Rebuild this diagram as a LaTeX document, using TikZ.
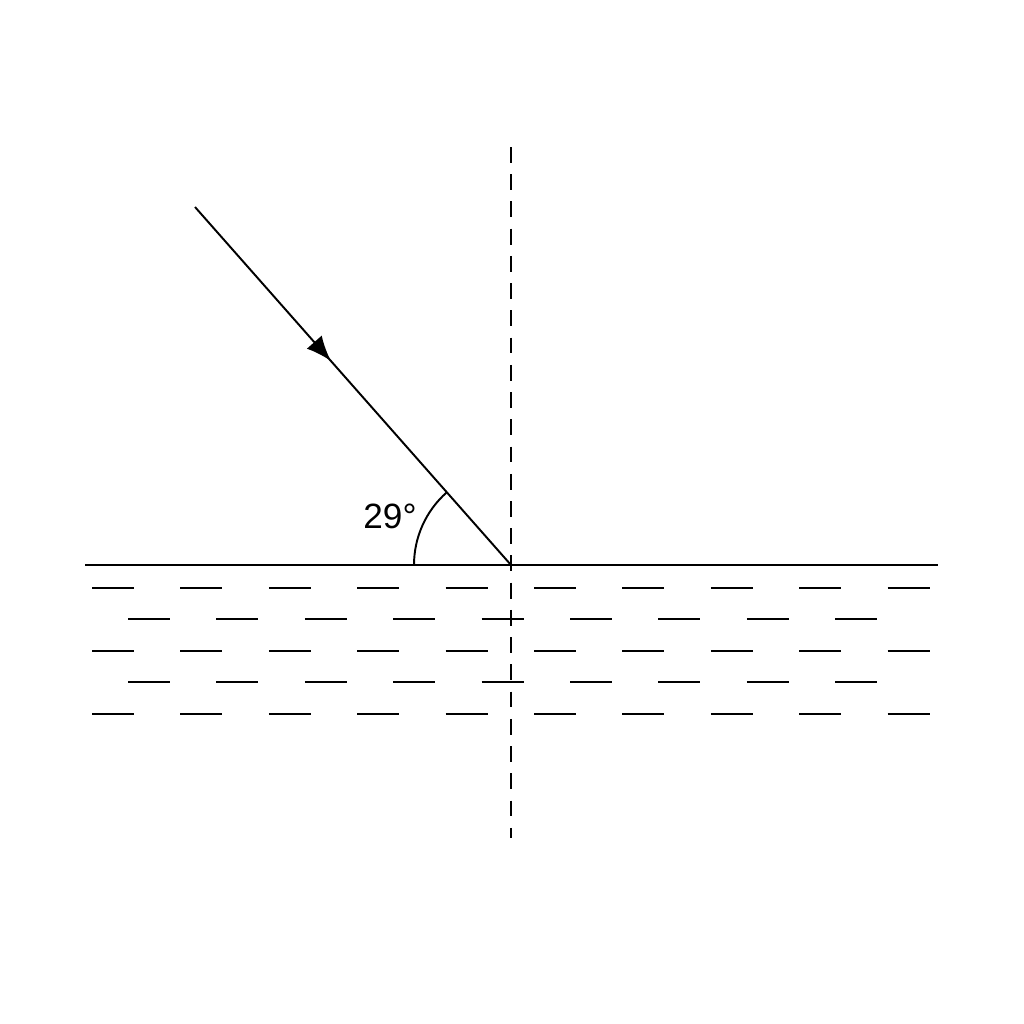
\documentclass[tikz,border=0pt]{standalone}
\usepackage{fontspec}
\setmainfont{Liberation Sans}
\usetikzlibrary{arrows.meta,decorations.markings}

\begin{document}
\begin{tikzpicture}[x=0.02cm,y=-0.02cm,line width=1.1pt,
    normal/.style={dash pattern=on 9pt off 6.5pt},
    ray/.style={postaction={decorate},
      decoration={markings,mark=at position 0.43 with {\arrow{Latex[length=0.5cm,width=0.4cm]}}}},
    wave/.style={line width=1pt}]
    \useasboundingbox (0,0) rectangle (1024,1024);

    % points
    \coordinate (O)   at (511,565);
    \coordinate (src) at (195,207);
    \coordinate (sl)  at (85,565);
    \coordinate (sr)  at (938,565);
    \coordinate (nt)  at (511,147);
    \coordinate (nb)  at (511,838);

    % surface, normal and incident ray
    \draw (sl) -- (sr);
    \draw[normal] (nt) -- (nb);
    \draw[ray] (src) -- (O);

    % angle
    \draw ([shift={(180:97)}]O) arc (180:228.6:97);
    \node (ang) at (390,516) {\fontsize{20}{24}\selectfont 29°};

    % water
    \foreach \y in {588,651,714}
      \foreach \i in {0,...,9}
        \draw[wave] ({92+88.4*\i},\y) -- ++(42,0);
    \foreach \y in {619,682}
      \foreach \i in {0,...,8}
        \draw[wave] ({128+88.4*\i},\y) -- ++(42,0);
\end{tikzpicture}
\end{document}
